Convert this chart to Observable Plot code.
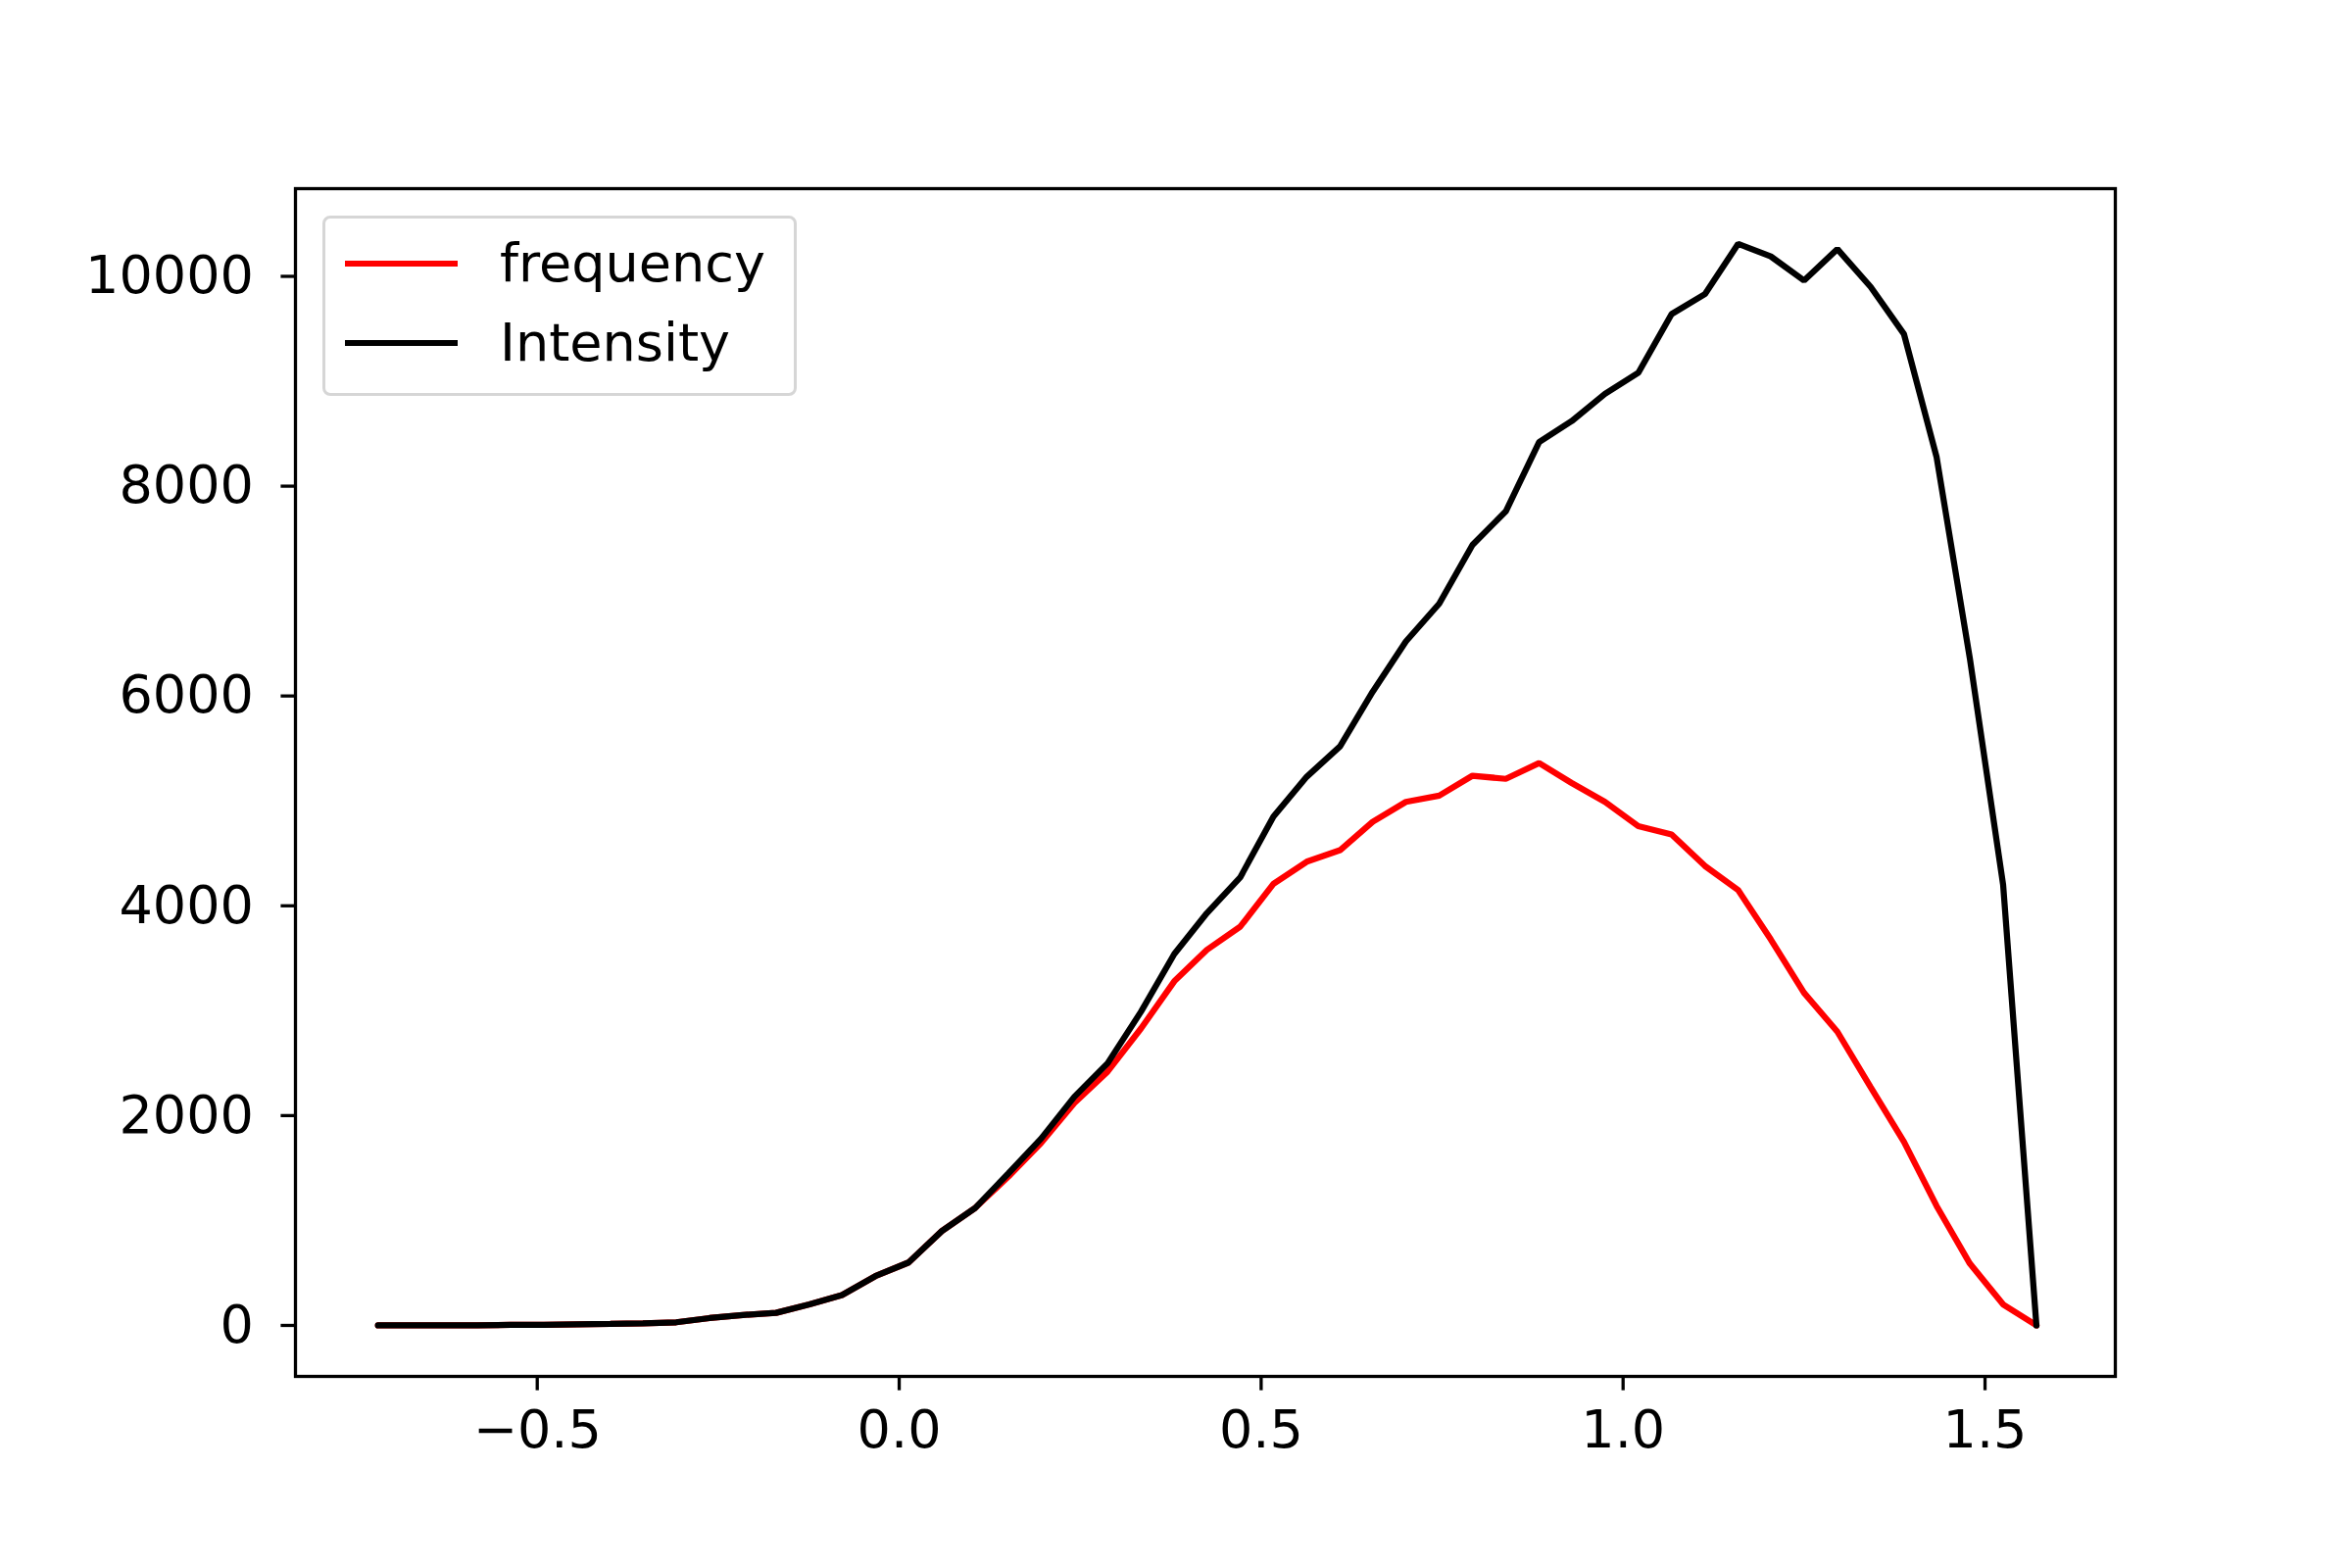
<!DOCTYPE html>
<html><head><meta charset="utf-8">
<script src="https://cdn.jsdelivr.net/npm/d3@7"></script>
<script src="https://cdn.jsdelivr.net/npm/@observablehq/plot@0.6"></script>
<style>body{margin:0;background:#fff}#wrap{position:relative;width:2400px;height:1600px}
#leg{position:absolute;left:329px;top:220px;width:478px;height:178px;border:3px solid #d6d6d6;border-radius:8px;background:#fff;font-family:'DejaVu Sans';font-size:54px}
.row{position:absolute;left:20px;display:flex;align-items:center}.ln{width:115px;height:6px;margin-right:43px}</style>
</head><body><div id="wrap"></div>
<script>
const xs=[-0.720,-0.674,-0.629,-0.583,-0.537,-0.491,-0.445,-0.399,-0.354,-0.308,-0.262,-0.216,-0.170,-0.124,-0.079,-0.033,0.013,0.059,0.105,0.151,0.196,0.242,0.288,0.334,0.380,0.425,0.471,0.517,0.563,0.609,0.654,0.700,0.746,0.792,0.838,0.884,0.929,0.975,1.021,1.067,1.113,1.159,1.204,1.250,1.296,1.342,1.388,1.433,1.479,1.525,1.571];
const intensity=[0,0,0,0,5,5,10,15,20,30,70,100,120,200,290,470,600,900,1120,1450,1780,2180,2500,2990,3540,3930,4270,4850,5230,5520,6040,6520,6880,7440,7760,8420,8620,8880,9080,9640,9830,10310,10190,9960,10260,9900,9450,8280,6360,4200,0];
const frequency=[0,0,0,0,5,5,10,15,20,30,70,100,120,200,290,470,600,900,1120,1420,1740,2120,2420,2830,3280,3580,3800,4210,4420,4530,4800,4990,5050,5240,5210,5360,5170,4990,4760,4680,4380,4150,3680,3170,2800,2270,1750,1140,590,200,0];
const yTicks=[0,2000,4000,6000,8000,10000];
const xTicks=[-0.5,0,0.5,1,1.5];
const fD=xs.map((x,i)=>({x,y:frequency[i]})), iD=xs.map((x,i)=>({x,y:intensity[i]}));
const p=Plot.plot({width:2400,height:1600,marginLeft:301,marginRight:242,marginTop:192,marginBottom:196,
 style:{fontFamily:'DejaVu Sans',fontSize:'54px',background:'#fff',color:'#000'},
 x:{domain:[-0.834,1.68]},y:{domain:[-486,10836]},
 marks:[
  Plot.axisX({ticks:xTicks,tickFormat:d3.format(".1f"),tickSize:14.6,tickPadding:20,strokeWidth:3.3,label:null,fontSize:54}),
  Plot.axisY({ticks:yTicks,tickFormat:d=>String(d),tickSize:14.6,tickPadding:28,strokeWidth:3.3,label:null,fontSize:54}),
  Plot.line(fD,{x:"x",y:"y",stroke:"#ff0000",strokeWidth:6.25,strokeLinejoin:"miter"}),
  Plot.line(iD,{x:"x",y:"y",stroke:"#000",strokeWidth:6.25,strokeLinejoin:"miter"}),
  Plot.frame({stroke:"#000",strokeWidth:3.3})
 ]});
const w=document.getElementById('wrap');w.appendChild(p);
const leg=document.createElement('div');leg.id='leg';
leg.innerHTML='<div class="row" style="top:14px"><div class="ln" style="background:#f00"></div>frequency</div><div class="row" style="top:95px"><div class="ln" style="background:#000"></div>Intensity</div>';
w.appendChild(leg);
</script></body></html>
